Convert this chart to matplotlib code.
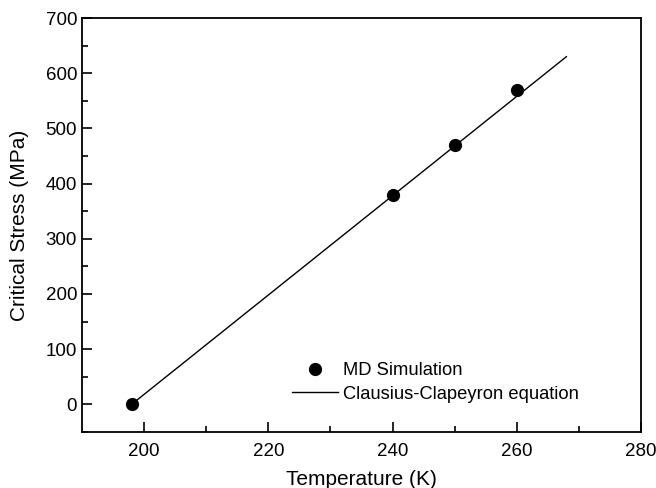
import numpy as np
import matplotlib.pyplot as plt

plt.rcParams["font.family"] = ["Liberation Sans", "DejaVu Sans"]

# MD simulation points
md_temp = [198, 240, 250, 260]
md_stress = [0, 380, 470, 570]

# Clausius-Clapeyron line (end points)
cc_temp = [198, 268]
cc_stress = [0, 630]


def main():
    fig = plt.figure(figsize=(6.56, 4.88), dpi=100)
    ax = fig.add_axes([0.125, 0.115, 0.852, 0.848])

    ax.plot(md_temp, md_stress, "o", color="k", ms=8.5, label="MD Simulation")
    ax.plot(cc_temp, cc_stress, "-", color="k", lw=1.0, label="Clausius-Clapeyron equation")

    ax.set_xlim(190, 280)
    ax.set_ylim(-50, 700)
    ax.set_xticks(np.arange(200, 281, 20))
    ax.set_xticks(np.arange(210, 280, 20), minor=True)
    ax.set_yticks(np.arange(0, 701, 100))
    ax.set_yticks(np.arange(-50, 700, 100), minor=True)
    ax.tick_params(which="both", direction="in", labelsize=13.5, width=1.2)
    ax.tick_params(which="major", length=7)
    ax.tick_params(which="minor", length=4)
    ax.tick_params(axis="x", which="major", pad=8)
    for s in ax.spines.values():
        s.set_linewidth(1.3)

    ax.set_xlabel("Temperature (K)", fontsize=15, labelpad=7)
    ax.set_ylabel("Critical Stress (MPa)", fontsize=15, labelpad=12)

    ax.legend(loc="lower left", bbox_to_anchor=(0.376, 0.07), frameon=False,
              borderpad=0, borderaxespad=0,
              fontsize=13.2, handlelength=2.5, handletextpad=0.3, labelspacing=0.35)

    fig.savefig("out.png", dpi=100)


if __name__ == "__main__":
    main()
